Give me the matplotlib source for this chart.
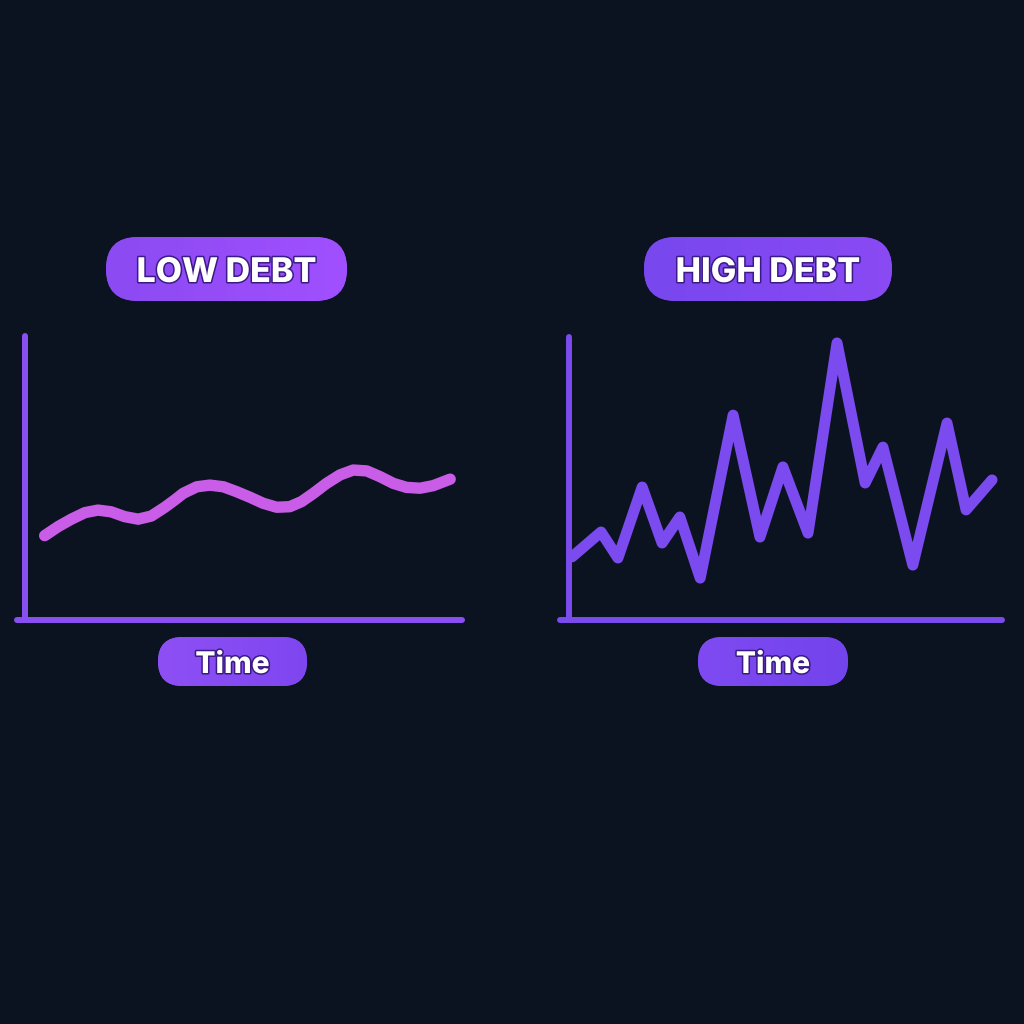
import numpy as np
import matplotlib
matplotlib.use("Agg")
import matplotlib.pyplot as plt
from matplotlib.patches import FancyBboxPatch
import matplotlib.patheffects as pe

# ---------------- data ----------------
low_time = [4.5, 7.6, 10.6, 13.7, 16.7, 19.7, 22.8, 25.9, 28.9, 32.0, 34.3, 36.2,
            39.3, 42.3, 45.4, 48.4, 51.5, 54.5, 57.6, 60.6, 63.3, 66.0, 69.0, 72.1,
            75.1, 78.2, 81.2, 84.3, 87.3, 90.4, 93.4, 97.3]
low_value = [29.7, 32.9, 35.5, 37.8, 38.7, 38.1, 36.4, 35.5, 36.6, 39.7, 42.3, 44.6,
             46.9, 47.5, 46.9, 45.2, 43.2, 41.1, 39.7, 39.9, 41.7, 44.6, 48.1, 51.1,
             52.8, 52.5, 50.5, 48.1, 46.7, 46.4, 47.3, 49.6]

high_time = [0.7, 7.4, 11.3, 16.9, 21.5, 25.6, 30.3, 37.9, 44.1, 49.4, 55.2, 61.9,
             68.4, 72.5, 79.4, 87.3, 91.7, 97.7]
high_value = [22.3, 31.1, 21.9, 47.0, 27.2, 36.4, 14.8, 72.4, 29.3, 54.1, 30.7, 97.9,
              48.4, 61.1, 19.4, 69.6, 38.9, 49.5]

panel_titles = ["LOW DEBT", "HIGH DEBT"]
axis_label = "Time"

# ---------------- style ----------------
BG = "#0B1220"
FONT = ["Inter", "DejaVu Sans"]
W = H = 1024

fig = plt.figure(figsize=(10.24, 10.24), dpi=100, facecolor=BG)

# overlay in pixel coordinates for pills
ov = fig.add_axes([0, 0, 1, 1])
ov.axis("off")
ov.patch.set_alpha(0)


def pill(cx, cy, w, h, c1, c2, text, size, baseline):
    x0, y0 = cx - w / 2, cy - h / 2
    patch = FancyBboxPatch((x0, y0), w, h,
                           boxstyle=f"round,pad=0,rounding_size={h/2}",
                           facecolor=c1, edgecolor="none", zorder=2)
    ov.add_patch(patch)
    grad = np.linspace(0, 1, 256).reshape(1, -1)
    cmap = matplotlib.colors.LinearSegmentedColormap.from_list("g", [c1, c2])
    im = ov.imshow(grad, extent=(x0, x0 + w, y0 + h, y0), cmap=cmap,
                   aspect="auto", zorder=3, interpolation="bilinear")
    im.set_clip_path(patch)
    ov.text(cx, baseline, text, ha="center", va="baseline", color="white",
            fontsize=size, fontweight="heavy", family=FONT, zorder=4,
            path_effects=[pe.withStroke(linewidth=2.2, foreground="#3B1A86")])


# ---------------- panels ----------------
panels = [
    dict(rect=(25, 336, 437, 284), xstart=17, series=(low_time, low_value),
         line="#C95DE8", axis="#8A4FF2", lw=8.2),
    dict(rect=(569, 337, 433, 283), xstart=560, series=(high_time, high_value),
         line="#7B4BF0", axis="#7B4BEE", lw=7.9),
]

for p in panels:
    x0, ytop, w, h = p["rect"]
    ax = fig.add_axes([x0 / W, 1 - (ytop + h) / H, w / W, h / H])
    ax.set_xlim(0, 100)
    ax.set_ylim(0, 100)
    ax.axis("off")
    ax.patch.set_alpha(0)
    ax.plot([0, 0], [0, 100], color=p["axis"], lw=4.3, solid_capstyle="round",
            clip_on=False, zorder=2)
    xs = (p["xstart"] - x0) / w * 100
    ax.plot([xs, 100], [0, 0], color=p["axis"], lw=4.3, solid_capstyle="round",
            clip_on=False, zorder=2)
    t, v = p["series"]
    ax.plot(t, v, color=p["line"], lw=p["lw"], solid_capstyle="round",
            solid_joinstyle="round", clip_on=False, zorder=3)

# ---------------- pills ----------------
pill(226.5, 269, 241, 64, "#8B4AF2", "#A150FF", panel_titles[0], 24.5, 282)
pill(768, 269, 248, 64, "#7847EE", "#8A4AF4", panel_titles[1], 24.5, 282)
pill(232.5, 661.5, 149, 49, "#8E50F5", "#7F46F0", axis_label, 21.5, 673)
pill(773, 661.5, 150, 49, "#7F4AF2", "#7343EC", axis_label, 21.5, 673)

ov.set_xlim(0, W)
ov.set_ylim(H, 0)

fig.savefig("out.png", dpi=100, facecolor=BG)
